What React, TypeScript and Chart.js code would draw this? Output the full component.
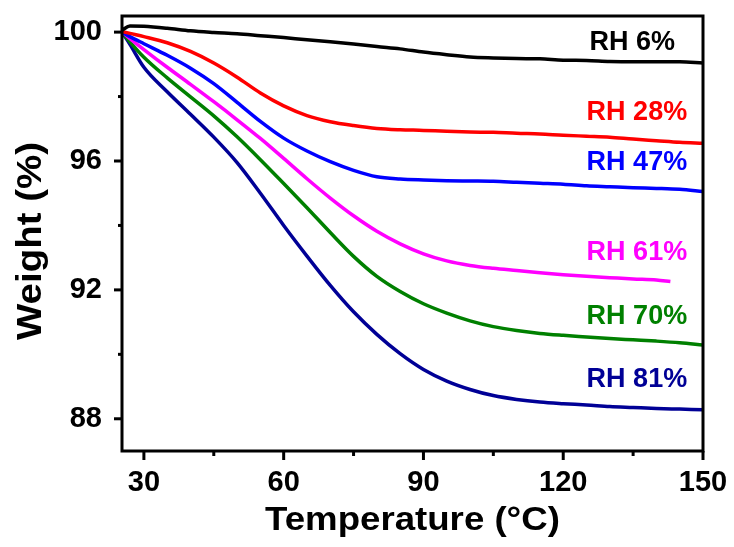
import React, { useEffect, useRef } from "react";
import { Chart, registerables } from "chart.js";

Chart.register(...registerables);

const temps = [25.3, 27, 30, 35, 40, 45, 50, 55, 60, 65, 70, 75, 80, 85, 90, 95, 100, 105, 110, 115, 120, 125, 130, 135, 140, 145, 150];

const rh6 = [100.06, 100.19, 100.18, 100.12, 100.04, 99.99, 99.95, 99.89, 99.83, 99.76, 99.7, 99.63, 99.55, 99.48, 99.38, 99.3, 99.23, 99.2, 99.18, 99.17, 99.13, 99.12, 99.09, 99.08, 99.08, 99.08, 99.04];
const rh28 = [100.02, 99.96, 99.86, 99.67, 99.4, 99.04, 98.6, 98.11, 97.71, 97.41, 97.22, 97.1, 97.01, 96.97, 96.95, 96.92, 96.9, 96.89, 96.86, 96.84, 96.8, 96.77, 96.74, 96.68, 96.63, 96.58, 96.55];
const rh47 = [100.0, 99.86, 99.64, 99.28, 98.88, 98.4, 97.82, 97.23, 96.71, 96.31, 95.98, 95.71, 95.51, 95.44, 95.41, 95.39, 95.38, 95.37, 95.34, 95.31, 95.28, 95.23, 95.2, 95.17, 95.15, 95.12, 95.05];
const rh61temps = [25.3, 27, 30, 35, 40, 45, 50, 55, 60, 65, 70, 75, 80, 85, 90, 95, 100, 105, 110, 115, 120, 125, 130, 135, 140, 143];
const rh61 = [100.0, 99.8, 99.46, 98.91, 98.38, 97.84, 97.28, 96.7, 96.08, 95.45, 94.85, 94.3, 93.82, 93.43, 93.12, 92.9, 92.76, 92.67, 92.6, 92.53, 92.47, 92.42, 92.38, 92.34, 92.31, 92.26];
const rh70 = [100.0, 99.7, 99.22, 98.58, 97.99, 97.4, 96.75, 96.04, 95.3, 94.55, 93.78, 93.04, 92.42, 91.95, 91.57, 91.28, 91.04, 90.86, 90.74, 90.65, 90.59, 90.54, 90.49, 90.45, 90.41, 90.36, 90.29];
const rh81 = [100.0, 99.62, 98.91, 98.15, 97.45, 96.74, 95.95, 95.0, 94.0, 93.05, 92.14, 91.32, 90.62, 90.02, 89.53, 89.17, 88.91, 88.72, 88.6, 88.52, 88.47, 88.43, 88.38, 88.35, 88.32, 88.3, 88.28];

const seriesNames = ["RH 6%", "RH 28%", "RH 47%", "RH 61%", "RH 70%", "RH 81%"];
const seriesColors = ["#000000", "#ff0000", "#0000ff", "#ff00ff", "#008000", "#000096"];

const xMajorTicks = [30, 60, 90, 120, 150];
const xMinorTicks = [45, 75, 105, 135];
const yMajorTicks = [88, 92, 96, 100];
const yMinorTicks = [90, 94, 98];

// label anchors in data coordinates (right-aligned x, vertical centre y)
const labelX = [144.0, 146.6, 146.6, 146.6, 146.6, 146.6];
const labelY = [99.69, 97.49, 95.94, 93.15, 91.16, 89.21];

const FONT = '"Liberation Sans", Arial, Helvetica, sans-serif';

function pts(xs: number[], ys: number[]) {
  return ys.map((y, i) => ({ x: xs[i], y }));
}

export default function App() {
  const ref = useRef<HTMLCanvasElement | null>(null);

  useEffect(() => {
    document.body.style.margin = "0";
    const canvas = ref.current;
    if (!canvas) return;

    const framePlugin = {
      id: "framePlugin",
      afterDraw(chart: any) {
        const { ctx, chartArea } = chart;
        const xs = chart.scales.x;
        const ys = chart.scales.y;
        ctx.save();
        ctx.strokeStyle = "#000";
        ctx.lineWidth = 3;
        ctx.strokeRect(chartArea.left, chartArea.top, chartArea.right - chartArea.left, chartArea.bottom - chartArea.top);
        const b = chartArea.bottom;
        const l = chartArea.left;
        xMajorTicks.forEach((v) => {
          const p = xs.getPixelForValue(v);
          ctx.beginPath();
          ctx.moveTo(p, b);
          ctx.lineTo(p, b + 9);
          ctx.stroke();
        });
        xMinorTicks.forEach((v) => {
          const p = xs.getPixelForValue(v);
          ctx.beginPath();
          ctx.moveTo(p, b);
          ctx.lineTo(p, b + 5);
          ctx.stroke();
        });
        yMajorTicks.forEach((v) => {
          const p = ys.getPixelForValue(v);
          ctx.beginPath();
          ctx.moveTo(l, p);
          ctx.lineTo(l - 8, p);
          ctx.stroke();
        });
        yMinorTicks.forEach((v) => {
          const p = ys.getPixelForValue(v);
          ctx.beginPath();
          ctx.moveTo(l, p);
          ctx.lineTo(l - 4, p);
          ctx.stroke();
        });

        // series labels
        ctx.font = `bold 27px ${FONT}`;
        ctx.textAlign = "right";
        ctx.textBaseline = "middle";
        seriesNames.forEach((name, i) => {
          ctx.fillStyle = seriesColors[i];
          ctx.fillText(name, xs.getPixelForValue(labelX[i]), ys.getPixelForValue(labelY[i]));
        });

        // axis titles
        ctx.fillStyle = "#000";
        ctx.textAlign = "center";
        ctx.save();
        ctx.translate((chartArea.left + chartArea.right) / 2, 521);
        ctx.scale(1.11, 1);
        ctx.font = `bold 33px ${FONT}`;
        ctx.fillText("Temperature (\u00B0C)", 0, 0);
        ctx.restore();
        ctx.save();
        ctx.translate(31, 241);
        ctx.rotate(-Math.PI / 2);
        ctx.scale(1.1, 1);
        ctx.font = `bold 35px ${FONT}`;
        ctx.fillText("Weight (%)", 0, 0);
        ctx.restore();
        ctx.restore();
      },
    };

    const allX = [temps, temps, temps, rh61temps, temps, temps];
    const allY = [rh6, rh28, rh47, rh61, rh70, rh81];

    const chart = new Chart(canvas, {
      type: "line",
      data: {
        datasets: allY.map((ys, i) => ({
          label: seriesNames[i],
          data: pts(allX[i], ys),
          borderColor: seriesColors[i],
          backgroundColor: seriesColors[i],
          borderWidth: 3.5,
          pointRadius: 0,
          cubicInterpolationMode: "monotone" as const,
          fill: false,
        })),
      },
      options: {
        animation: false,
        responsive: false,
        maintainAspectRatio: false,
        layout: { padding: { top: 16, right: 31, left: 0, bottom: 0 } },
        plugins: { legend: { display: false }, tooltip: { enabled: false } },
        scales: {
          x: {
            type: "linear",
            min: 25.3,
            max: 150,
            grid: { display: false, drawTicks: true, tickLength: 8 },
            border: { display: false },
            afterBuildTicks: (scale: any) => {
              scale.ticks = xMajorTicks.map((v) => ({ value: v }));
            },
            afterFit: (scale: any) => {
              scale.height = 96;
              scale.paddingLeft = 0;
              scale.paddingRight = 0;
            },
            ticks: {
              color: "#000",
              font: { family: FONT, size: 29, weight: "bold" },
              padding: 7,
              maxRotation: 0,
              autoSkip: false,
            },
          },
          y: {
            type: "linear",
            min: 87,
            max: 100.5,
            grid: { display: false, drawTicks: true, tickLength: 8 },
            border: { display: false },
            afterBuildTicks: (scale: any) => {
              scale.ticks = yMajorTicks.map((v) => ({ value: v }));
            },
            afterFit: (scale: any) => {
              scale.width = 122;
              scale.paddingTop = 0;
              scale.paddingBottom = 0;
            },
            ticks: {
              color: "#000",
              font: { family: FONT, size: 29, weight: "bold" },
              padding: 12,
              autoSkip: false,
            },
          },
        },
      },
      plugins: [framePlugin],
    });

    return () => chart.destroy();
  }, []);

  return (
    <div style={{ position: "absolute", left: 0, top: 0, width: 734, height: 547 }}>
      <canvas ref={ref} width={734} height={547} style={{ width: 734, height: 547, display: "block" }} />
    </div>
  );
}
